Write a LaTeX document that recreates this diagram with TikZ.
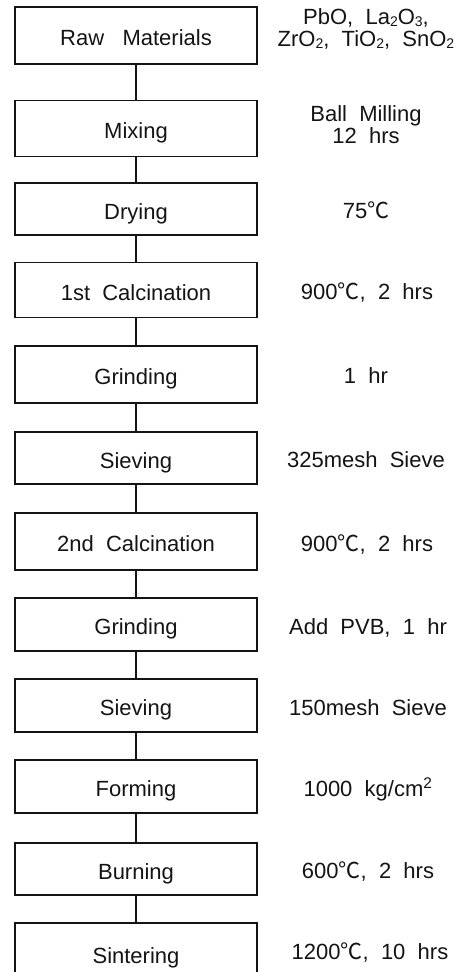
\documentclass[tikz,border=0pt]{standalone}
\usepackage{fontspec}
\usepackage{xcolor}
\setmainfont{Liberation Sans}
\newfontfamily\cjk{Noto Sans CJK KR}
\usetikzlibrary{positioning}
\definecolor{inkBlack}{RGB}{20,20,20}
\newcommand{\degC}{{\cjk ℃}}
\newcommand{\chemsub}[1]{\raisebox{-0.1em}{\fontsize{14}{14}\selectfont #1}}
\tikzset{
  stepbox/.style={draw=inkBlack,line width=1.2pt,minimum width=242pt,minimum height=55pt,inner sep=0pt,text height=20pt,text depth=0pt,font=\fontsize{22}{26}\selectfont,text=inkBlack},
  cond/.style={anchor=base,align=center,inner sep=0pt,font=\fontsize{22}{22}\selectfont,text=inkBlack},
  link/.style={draw=inkBlack,line width=1.2pt}
}

\begin{document}
\begin{tikzpicture}[x=1pt,y=-1pt]
\useasboundingbox (0,0) rectangle (463,972);
% process steps
\node[stepbox,minimum height=57pt] (raw) at (136,35.5) {Raw\ \ \ Materials};
\node[stepbox,minimum height=56pt] (mix) at (136,128.5) {Mixing};
\node[stepbox,minimum height=52pt] (dry) at (136,209) {Drying};
\node[stepbox] (calA) at (136,290) {1st\ \ Calcination};
\node[stepbox,minimum height=57pt] (grA) at (136,374.5) {Grinding};
\node[stepbox,minimum height=52pt] (sieA) at (136,458) {Sieving};
\node[stepbox,minimum height=57pt] (calB) at (136,541.5) {2nd\ \ Calcination};
\node[stepbox,minimum height=53pt] (grB) at (136,624.5) {Grinding};
\node[stepbox,minimum height=53pt] (sieB) at (136,705.5) {Sieving};
\node[stepbox,minimum height=53pt] (form) at (136,786.5) {Forming};
\node[stepbox,minimum height=52pt] (burn) at (136,869) {Burning};
\node[stepbox,minimum height=60pt] (sint) at (136,953) {Sintering};
% conditions (placed by baseline of last line)
\node[cond] (rawC) at (366,46) {PbO,\ \ La\chemsub{2}O\chemsub{3},\\ZrO\chemsub{2},\ \ TiO\chemsub{2},\ \ SnO\chemsub{2}};
\node[cond] (mixC) at (366,143) {Ball\ \ Milling\\12\ \ hrs};
\node[cond] (dryC) at (366,218) {75\degC};
\node[cond] (calAC) at (367,299) {900\degC,\ \ 2\ \ hrs};
\node[cond] (grAC) at (366,383) {1\ \ hr};
\node[cond] (sieAC) at (366,467) {325mesh\ \ Sieve};
\node[cond] (calBC) at (367,551) {900\degC,\ \ 2\ \ hrs};
\node[cond] (grBC) at (368,634) {Add\ \ PVB,\ \ 1\ \ hr};
\node[cond] (sieBC) at (368,715) {150mesh\ \ Sieve};
\node[cond] (formC) at (368,796) {1000\ \ kg/cm\textsuperscript{2}};
\node[cond] (burnC) at (368,878) {600\degC,\ \ 2\ \ hrs};
\node[cond] (sintC) at (370,959) {1200\degC,\ \ 10\ \ hrs};
% connectors
\foreach \a/\b in {raw/mix,mix/dry,dry/calA,calA/grA,grA/sieA,sieA/calB,calB/grB,grB/sieB,sieB/form,form/burn,burn/sint}
  \draw[link] (\a) -- (\b);
\end{tikzpicture}
\end{document}
